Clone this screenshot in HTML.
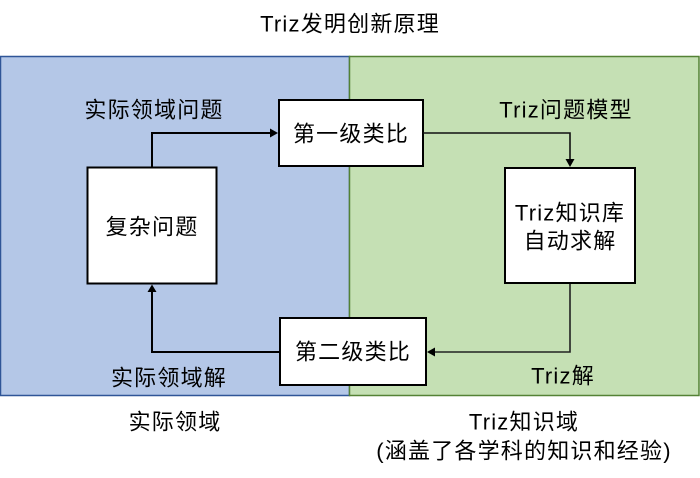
<!DOCTYPE html>
<html><head><meta charset="utf-8"><style>
html,body{margin:0;padding:0;background:#fff;}
svg{display:block;}
text{font-family:"Liberation Sans","Noto Sans CJK SC",sans-serif;font-size:22px;fill:#000;letter-spacing:1.2px;}
</style></head><body>
<svg width="700" height="478" viewBox="0 0 700 478" xmlns="http://www.w3.org/2000/svg">
<rect x="0.5" y="56.5" width="349" height="339" fill="#b4c7e7" stroke="#2f5597" stroke-width="1.5"/>
<rect x="349.5" y="56.5" width="349.5" height="339" fill="#c5e0b4" stroke="#548235" stroke-width="1.5"/>

<text x="350" y="24" text-anchor="middle" dominant-baseline="central">Triz发明创新原理</text>

<rect x="87.5" y="167.5" width="129" height="116" fill="#fff" stroke="#000" stroke-width="2"/>
<rect x="279" y="100" width="144" height="66" fill="#fff" stroke="#000" stroke-width="2"/>
<rect x="280" y="318" width="146" height="67" fill="#fff" stroke="#000" stroke-width="2"/>
<rect x="505" y="168" width="130" height="115" fill="#fff" stroke="#000" stroke-width="2"/>

<path d="M152 166.5 V133 H271" fill="none" stroke="#000" stroke-width="2"/>
<polygon points="278,133 270,128.5 270,137.5" fill="#000"/>
<path d="M423 133 H570 V159" fill="none" stroke="#111" stroke-width="1.6"/>
<polygon points="570,167 565.5,159 574.5,159" fill="#000"/>
<path d="M570 284 V352 H434" fill="none" stroke="#222" stroke-width="1.6"/>
<polygon points="427,352 435,347.5 435,356.5" fill="#000"/>
<path d="M280 352 H152 V291" fill="none" stroke="#000" stroke-width="2"/>
<polygon points="152,284.5 147.5,292 156.5,292" fill="#000"/>

<text x="154" y="110" text-anchor="middle" dominant-baseline="central">实际领域问题</text>
<text x="566" y="110" text-anchor="middle" dominant-baseline="central">Triz问题模型</text>
<text x="351" y="134" text-anchor="middle" dominant-baseline="central">第一级类比</text>
<text x="152" y="227" text-anchor="middle" dominant-baseline="central">复杂问题</text>
<text x="570" y="213" text-anchor="middle" dominant-baseline="central">Triz知识库</text>
<text x="570" y="241" text-anchor="middle" dominant-baseline="central">自动求解</text>
<text x="353" y="352" text-anchor="middle" dominant-baseline="central">第二级类比</text>
<text x="169" y="378" text-anchor="middle" dominant-baseline="central">实际领域解</text>
<text x="563" y="376" text-anchor="middle" dominant-baseline="central">Triz解</text>
<text x="175" y="422" text-anchor="middle" dominant-baseline="central">实际领域</text>
<text x="524" y="422" text-anchor="middle" dominant-baseline="central">Triz知识域</text>
<text x="524" y="451" text-anchor="middle" dominant-baseline="central">(涵盖了各学科的知识和经验)</text>
</svg>
</body></html>
